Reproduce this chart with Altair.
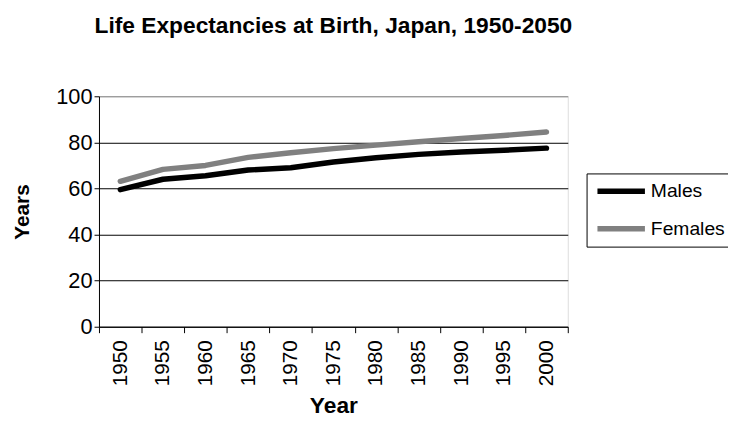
import altair as alt
import pandas as pd

years = ["1950", "1955", "1960", "1965", "1970", "1975", "1980", "1985", "1990", "1995", "2000"]
males = [59.5, 64.0, 65.5, 68.0, 69.0, 71.5, 73.3, 74.8, 75.8, 76.6, 77.5]
females = [63.1, 68.3, 70.0, 73.5, 75.5, 77.3, 78.8, 80.3, 81.7, 83.0, 84.5]
series = ["Males", "Females"]
colors = ["#000000", "#808080"]
y_ticks = [0, 20, 40, 60, 80, 100]

rows = []
for i, yr in enumerate(years):
    rows.append({"Year": yr, "Sex": "Males", "Value": males[i]})
    rows.append({"Year": yr, "Sex": "Females", "Value": females[i]})
df = pd.DataFrame(rows)

FONT = "Liberation Sans"

chart = alt.Chart(df).mark_line(strokeWidth=5.5, strokeCap="round", strokeJoin="round").encode(
    x=alt.X("Year:N", sort=years,
            scale=alt.Scale(paddingInner=0, paddingOuter=0),
            axis=alt.Axis(title="Year", labelAngle=270, labelAlign="right", labelBaseline="middle",
                          tickBand="extent", tickSize=6, labelPadding=7,
                          labelFontSize=21, titleFontSize=23, titleFontWeight="bold",
                          titlePadding=9, grid=False,
                          domainColor="#000000", tickColor="#000000",
                          labelColor="#000000", titleColor="#000000",
                          labelFont=FONT, titleFont=FONT)),
    y=alt.Y("Value:Q", scale=alt.Scale(domain=[0, 100], nice=False),
            axis=alt.Axis(title="Years", values=y_ticks, tickSize=5, labelPadding=2,
                          labelFontSize=22, titleFontSize=21, titleFontWeight="bold",
                          titlePadding=24, grid=True,
                          gridColor={"condition": {"test": "datum.value === 100", "value": "#808080"},
                                     "value": "#000000"},
                          gridWidth=1,
                          domainColor="#000000", tickColor="#000000",
                          labelColor="#000000", titleColor="#000000",
                          labelFont=FONT, titleFont=FONT)),
    color=alt.Color("Sex:N", sort=series,
                    scale=alt.Scale(domain=series, range=colors),
                    legend=alt.Legend(title=None, orient="none", legendX=493, legendY=78,
                                      symbolType="stroke", symbolSize=2304, symbolStrokeWidth=5.5,
                                      labelFontSize=19.5, labelFont=FONT, labelColor="#000000",
                                      labelOffset=3, clipHeight=20, rowPadding=18,
                                      padding=8, strokeColor="#000000", fillColor="#ffffff",
                                      cornerRadius=0)),
).properties(
    width=474,
    height=233,
    title=alt.TitleParams("Life Expectancies at Birth, Japan, 1950-2050",
                          fontSize=23, font=FONT, fontWeight="bold", color="#000000",
                          anchor="middle", offset=48),
    autosize=alt.AutoSizeParams(type="none"),
    padding={"left": 92, "top": 87, "right": 162, "bottom": 89},
).configure_view(
    stroke="#808080", strokeWidth=2
).configure(background="#ffffff")

chart.save("out.html", embed_options={"renderer": "svg", "actions": False})
